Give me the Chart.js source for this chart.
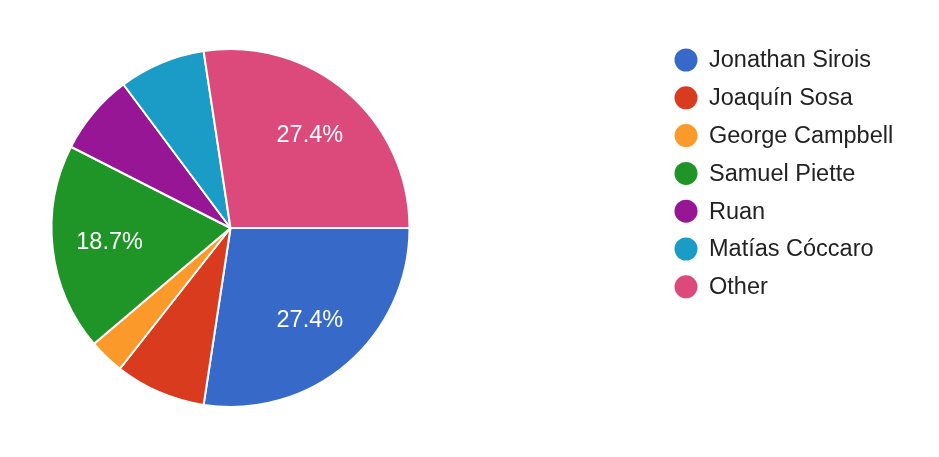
<!DOCTYPE html>
<html>
<head>
<meta charset="utf-8">
<script src="https://cdn.jsdelivr.net/npm/chart.js@4.4.0/dist/chart.umd.min.js"></script>
<style>
  html, body { margin: 0; padding: 0; background: #fff; }
  #wrap { width: 939px; height: 457px; }
</style>
</head>
<body>
<div id="wrap"><canvas id="pie" width="939" height="457"></canvas></div>
<script>
// data (percent of responses)
const players = ["Jonathan Sirois", "Joaquín Sosa", "George Campbell", "Samuel Piette", "Ruan", "Matías Cóccaro", "Other"];
const shares = [27.4, 8.2, 3.2, 18.7, 7.3, 7.8, 27.4];
const colors = ["#3769c9", "#d93b1f", "#fb9a2a", "#1f9427", "#961695", "#1a9cc6", "#db4a7a"];

const FONT = "'Liberation Sans', Arial, sans-serif";

// percent text inside the bigger slices
const sliceLabels = {
  id: "sliceLabels",
  afterDatasetsDraw(chart) {
    const ctx = chart.ctx;
    const meta = chart.getDatasetMeta(0);
    const total = shares.reduce((a, b) => a + b, 0);
    ctx.save();
    ctx.font = "23.5px " + FONT;
    ctx.fillStyle = "#fff";
    ctx.textAlign = "center";
    ctx.textBaseline = "middle";
    meta.data.forEach((arc, i) => {
      const pct = shares[i] / total;
      if (pct < 0.1) return;
      const p = arc.getProps(["x", "y", "startAngle", "endAngle", "outerRadius"], true);
      const mid = (p.startAngle + p.endAngle) / 2;
      const r = p.outerRadius * 0.68;
      ctx.fillText((pct * 100).toFixed(1) + "%", p.x + Math.cos(mid) * r, p.y + Math.sin(mid) * r);
    });
    ctx.restore();
  }
};

// legend on the right, drawn like the original
const sideLegend = {
  id: "sideLegend",
  afterDraw(chart) {
    const ctx = chart.ctx;
    ctx.save();
    ctx.font = "23.5px " + FONT;
    ctx.textBaseline = "middle";
    players.forEach((name, i) => {
      const y = 60 + i * 37.8;
      ctx.beginPath();
      ctx.arc(686, y, 11.5, 0, Math.PI * 2);
      ctx.fillStyle = colors[i];
      ctx.fill();
      ctx.fillStyle = "#222";
      ctx.fillText(name, 709, y + 1);
    });
    ctx.restore();
  }
};

new Chart(document.getElementById("pie").getContext("2d"), {
  type: "pie",
  data: {
    labels: players,
    datasets: [{
      data: shares,
      backgroundColor: colors,
      borderColor: "#fff",
      borderWidth: 2
    }]
  },
  options: {
    responsive: false,
    animation: false,
    rotation: 90,
    layout: { padding: { left: 50, top: 48, bottom: 49, right: 528 } },
    plugins: {
      legend: { display: false },
      tooltip: { enabled: false }
    }
  },
  plugins: [sliceLabels, sideLegend]
});
</script>
</body>
</html>
